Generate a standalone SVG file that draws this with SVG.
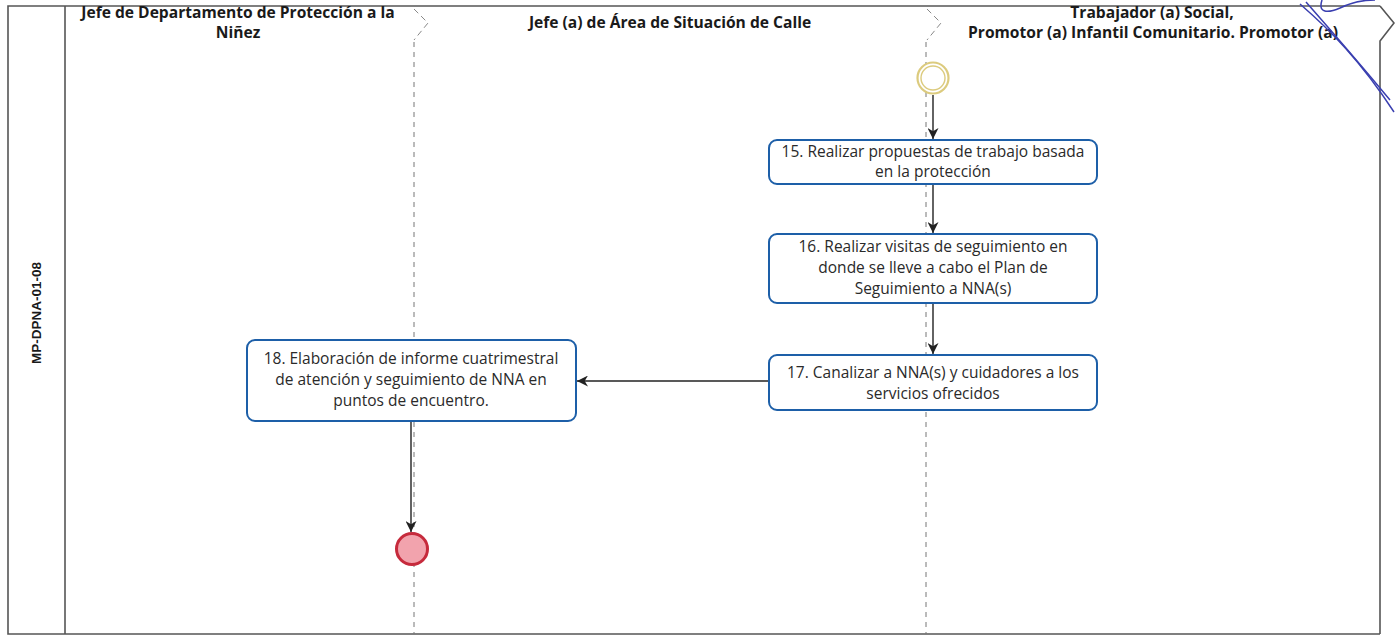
<svg xmlns="http://www.w3.org/2000/svg" width="1395" height="637" viewBox="0 0 1395 637">
<defs>
<style>
.frame{fill:none;stroke:#555;stroke-width:1.6}
.lane{fill:none;stroke:#777;stroke-width:1;stroke-dasharray:5 5}
.chev{fill:none;stroke:#888;stroke-width:1;stroke-dasharray:6 4}
.box{fill:#fff;stroke:#1d5fa8;stroke-width:2}
.t{font-family:"Open Sans","Noto Sans",sans-serif;font-size:15.5px;fill:#2a2a2a;text-anchor:middle}
.h{font-family:"Open Sans","Noto Sans",sans-serif;font-size:15.6px;font-weight:bold;fill:#1a1a1a;text-anchor:middle}
.flow{fill:none;stroke:#222;stroke-width:1.4}
.pen{fill:none;stroke:#3a3fb0;stroke-width:1.5}
</style>
<marker id="arr" viewBox="0 0 10 10" refX="10" refY="5" markerWidth="11" markerHeight="11" markerUnits="userSpaceOnUse" orient="auto">
<path d="M0,0 L10,5 L0,10 L3,5 Z" fill="#222"/>
</marker>
</defs>
<rect width="1395" height="637" fill="#fff"/>
<g id="pool">
<path class="frame" d="M1380,6 L8,6 L8,634 L1380,634"/>
<path class="frame" d="M1380,6 L1394,23 L1380,41 L1380,634"/>
<line class="frame" x1="65" y1="6" x2="65" y2="634"/>
<text x="37" y="313" transform="rotate(-90 37 313)" font-family="Liberation Sans, Arial, sans-serif" font-size="13.5" font-weight="bold" fill="#1a1a1a" text-anchor="middle" dominant-baseline="middle">MP-DPNA-01-08</text>
</g>
<g id="lanes">
<path class="chev" d="M414,9 L428,23 L414,40"/>
<line class="lane" x1="414" y1="42" x2="414" y2="634"/>
<path class="chev" d="M927,9 L941,23 L927,40"/>
<line class="lane" x1="926" y1="42" x2="926" y2="634"/>
<text class="h" x="238" y="18">Jefe de Departamento de Protección a la</text>
<text class="h" x="238" y="38">Niñez</text>
<text class="h" x="670" y="28">Jefe (a) de Área de Situación de Calle</text>
<text class="h" x="1152" y="18">Trabajador (a) Social,</text>
<text class="h" x="1153" y="38">Promotor (a) Infantil Comunitario. Promotor (a)</text>
</g>
<g id="connectors">
<line class="flow" x1="933" y1="95" x2="933" y2="139" marker-end="url(#arr)"/>
<line class="flow" x1="933" y1="184" x2="933" y2="233" marker-end="url(#arr)"/>
<line class="flow" x1="933" y1="303" x2="933" y2="354" marker-end="url(#arr)"/>
<line class="flow" x1="769" y1="381" x2="577" y2="381" marker-end="url(#arr)"/>
<line class="flow" x1="411" y1="421" x2="411" y2="532" marker-end="url(#arr)"/>
</g>
<g id="start">
<circle cx="933" cy="78" r="15.5" fill="#fff" stroke="#dccb7e" stroke-width="2.2"/>
<circle cx="933" cy="78" r="12" fill="#fff" stroke="#dccb7e" stroke-width="1.4"/>
</g>
<g id="task15">
<rect class="box" x="769" y="140" width="328" height="44" rx="8"/>
<text class="t" x="933" y="157">15. Realizar propuestas de trabajo basada</text>
<text class="t" x="933" y="177">en la protección</text>
</g>
<g id="task16">
<rect class="box" x="769" y="234" width="328" height="69" rx="8"/>
<text class="t" x="933" y="252">16. Realizar visitas de seguimiento en</text>
<text class="t" x="933" y="273">donde se lleve a cabo el Plan de</text>
<text class="t" x="933" y="294">Seguimiento a NNA(s)</text>
</g>
<g id="task17">
<rect class="box" x="769" y="355" width="328" height="55" rx="8"/>
<text class="t" x="933" y="378">17. Canalizar a NNA(s) y cuidadores a los</text>
<text class="t" x="933" y="399">servicios ofrecidos</text>
</g>
<g id="task18">
<rect class="box" x="247" y="340" width="329" height="81" rx="8"/>
<text class="t" x="411" y="364">18. Elaboración de informe cuatrimestral</text>
<text class="t" x="411" y="385">de atención y seguimiento de NNA en</text>
<text class="t" x="411" y="406">puntos de encuentro.</text>
</g>
<g id="end">
<circle cx="412" cy="549" r="15.5" fill="#f2a3ad" stroke="#c62a3c" stroke-width="3"/>
</g>
<g id="pen-mark">
<path class="pen" d="M1300,4 C1330,30 1360,60 1394,112"/>
<path class="pen" d="M1306,2 C1335,35 1365,70 1390,100"/>
<path class="pen" d="M1322,0 C1318,12 1326,14 1340,8 C1352,2 1362,0 1375,0"/>
</g>
</svg>
